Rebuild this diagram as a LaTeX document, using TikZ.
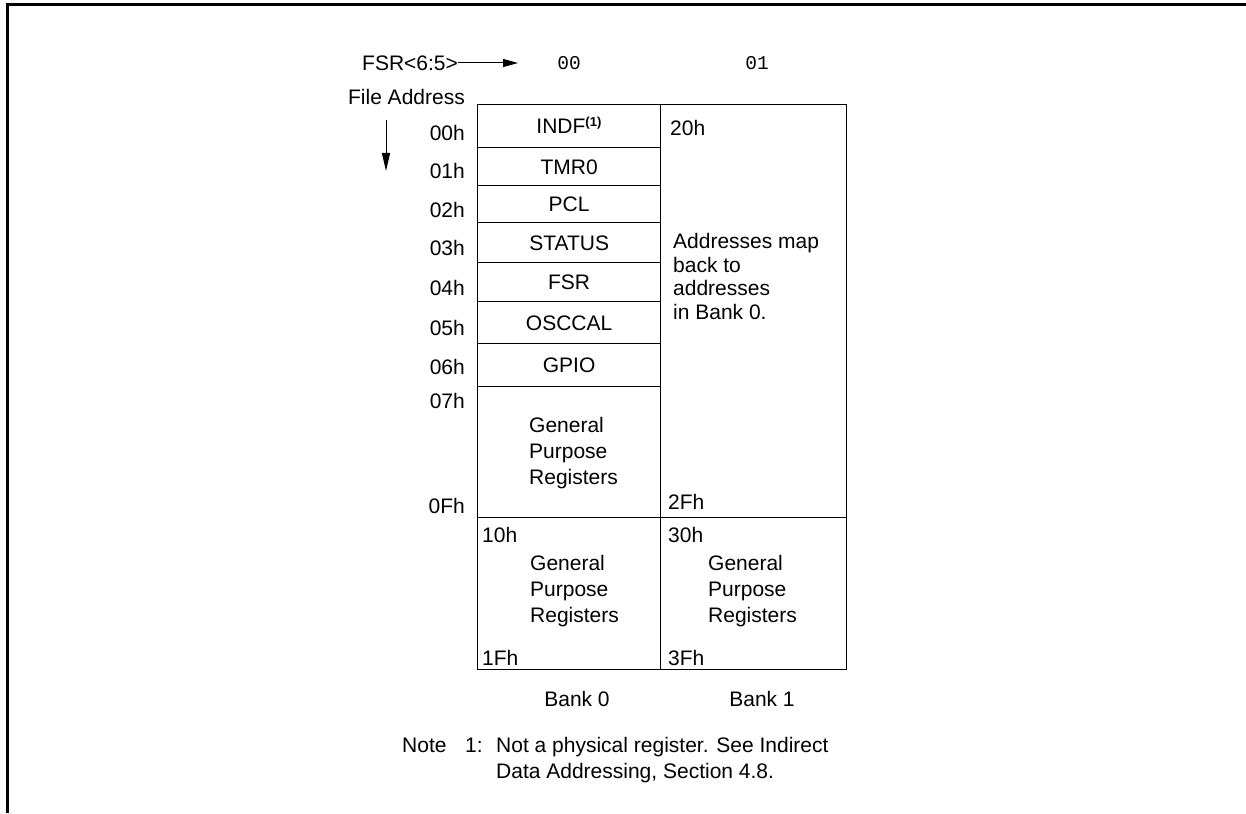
\documentclass[tikz,border=0pt]{standalone}
\usepackage{fontspec}
\setmainfont{Liberation Sans}
\newfontfamily\monofont{Liberation Mono}
\usetikzlibrary{arrows.meta}
\begin{document}
\begin{tikzpicture}[x=1pt,y=-1pt,
  every node/.style={inner sep=0pt,font=\fontsize{21}{26}\selectfont},
  lbl/.style={anchor=base west},
  rlbl/.style={anchor=base east},
  cell/.style={draw,line width=1.3pt,anchor=north west,minimum width=#1,text height=15pt,text depth=0pt},
  cell/.default=183pt,
  multi/.style={anchor=north west,align=left},
  bits/.style={anchor=base,font=\monofont\fontsize{19.5}{22}\selectfont},
  arr/.style={line width=1pt,-{Triangle[length=15pt,width=8pt]}}]
\useasboundingbox (0,0) rectangle (1246,813);
% frame
\draw[line width=3pt] (7.5,813) -- (7.5,5) -- (1246,5);
% header
\node[lbl] (fsr) at (362,70.5) {FSR<6:5>};
\coordinate (fsrtip) at (518,63);
\draw[arr] (fsr.east |- fsrtip) -- (fsrtip);
\node[bits] (b0bits) at (569,69.5) {00};
\node[bits] (b1bits) at (757,69.5) {01};
\node[rlbl] (fa) at (465,104.5) {File Address};
\coordinate (dtop) at (386,120);
\coordinate (dbot) at (386,171);
\draw[arr,-{Triangle[length=18pt,width=8pt]}] (dtop) -- (dbot);
% bank 0 cells
\node[cell,minimum height=43pt] (indf) at (477,104) {INDF\textsuperscript{\bfseries\fontsize{13}{14}\selectfont(1)}};
\node[cell,minimum height=38pt] (tmr) at (477,147) {TMR0};
\node[cell,minimum height=37pt] (pcl) at (477,185) {PCL};
\node[cell,minimum height=40pt] (status) at (477,222) {STATUS};
\node[cell,minimum height=39pt] (fsrreg) at (477,262) {FSR};
\node[cell,minimum height=42pt] (osc) at (477,301) {OSCCAL};
\node[cell,minimum height=43pt] (gpio) at (477,343) {GPIO};
\node[cell,minimum height=131pt] (gpra) at (477,386) {};
\node[cell,minimum height=152pt] (gprb) at (477,517) {};
% bank 1 cells
\node[cell=186pt,minimum height=413pt] (map) at (660,104) {};
\node[cell=186pt,minimum height=152pt] (gprc) at (660,517) {};
% row labels
\node[rlbl] (a00) at (465,140.5) {00h};
\node[rlbl] (a01) at (465,178.5) {01h};
\node[rlbl] (a02) at (465,217) {02h};
\node[rlbl] (a03) at (465,255.5) {03h};
\node[rlbl] (a04) at (465,295.5) {04h};
\node[rlbl] (a05) at (465,335) {05h};
\node[rlbl] (a06) at (465,374.5) {06h};
\node[rlbl] (a07) at (465,408.5) {07h};
\node[rlbl] (a0f) at (465,513) {0Fh};
% inner texts
\node[multi] (gpratxt) at (529,417.5) {General\\Purpose\\Registers};
\node[lbl] (a10) at (482,542.5) {10h};
\node[multi] (gprbtxt) at (530,555.5) {General\\Purpose\\Registers};
\node[lbl] (a1f) at (482,665) {1Fh};
\node[lbl] (a20) at (670,135.5) {20h};
\node[multi,font=\fontsize{21}{23.5}\selectfont] (maptxt) at (673,233.5) {Addresses map\\back to\\addresses\\in Bank 0.};
\node[lbl] (a2f) at (668,509.5) {2Fh};
\node[lbl] (a30) at (668,542.5) {30h};
\node[multi] (gprctxt) at (708,555) {General\\Purpose\\Registers};
\node[lbl] (a3f) at (668,665) {3Fh};
% bank labels
\node[anchor=base] (bank0) at (577,706.5) {Bank 0};
\node[anchor=base] (bank1) at (762,706.5) {Bank 1};
% note
\node[lbl] (note) at (402,752.5) {Note};
\node[lbl] (noteno) at (465,752.5) {1:};
\node[lbl] (note1) at (496,752.5) {Not a physical register. See Indirect};
\node[lbl] (note2) at (496,778.5) {Data Addressing, Section 4.8.};
\end{tikzpicture}
\end{document}
